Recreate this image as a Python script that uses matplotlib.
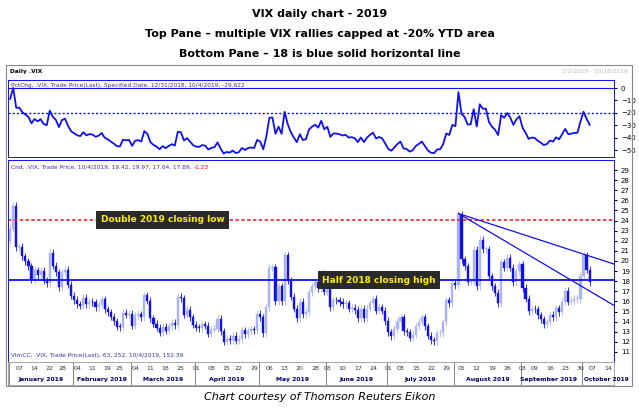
import matplotlib
matplotlib.use("Agg")
import matplotlib.pyplot as plt
import numpy as np
import pandas as pd

closes = [23.2,25.45,21.38,21.40,20.47,19.98,19.50,18.19,19.07,18.60,19.04,18.06,17.80,20.80,19.52,18.89,17.42,18.87,19.13,17.66,16.57,
 16.14,15.73,15.57,16.37,15.72,15.97,15.91,15.43,15.65,16.22,15.24,14.91,14.46,14.02,13.51,13.46,14.85,14.70,14.78,
 13.57,14.63,14.74,14.45,16.59,16.05,14.33,13.77,13.41,12.88,13.50,13.10,13.56,13.91,13.63,16.48,16.33,14.68,15.15,14.43,13.71,
 13.40,13.36,13.74,13.58,12.82,13.18,13.30,14.28,13.02,12.01,12.32,12.18,12.60,12.09,12.28,13.14,12.73,13.11,13.25,13.12,
 14.80,14.42,12.87,15.44,19.32,19.40,16.04,17.50,16.04,20.55,18.06,16.44,15.29,14.33,15.96,14.75,14.95,16.92,17.50,17.90,17.30,18.71,
 16.97,17.48,15.41,16.12,16.09,15.94,15.70,15.82,15.28,15.35,15.15,14.33,15.28,14.33,15.26,15.82,16.28,15.08,15.40,15.08,
 14.06,12.93,12.57,13.28,13.96,14.45,13.03,12.93,12.39,12.68,13.53,13.97,14.45,13.53,12.61,12.16,12.07,12.83,12.87,13.94,16.12,15.80,
 17.87,17.61,24.59,20.17,19.49,17.97,17.97,21.09,17.52,22.10,21.18,21.18,18.47,17.50,16.88,15.80,19.87,19.32,20.31,19.35,17.88,18.98,
 19.66,17.33,16.27,15.00,15.27,15.20,14.61,14.22,13.74,13.95,14.67,14.44,15.32,14.91,15.96,17.05,15.96,16.07,16.24,16.24,
 18.56,20.56,19.12,17.89]
opens = [22.0] + closes[:-1]
ref_close = 25.42
double_low = 24.1
half_high = 18.1
trend_start = (147, 24.7)
trend_ends = [(198, 19.7), (198, 15.6)]
top_ticks = [0, -10, -20, -30, -40, -50]
bot_ticks = list(range(11, 30))
months = ["January 2019","February 2019","March 2019","April 2019","May 2019","June 2019",
          "July 2019","August 2019","September 2019","October 2019"]

hol = pd.to_datetime(["2019-01-21","2019-02-18","2019-04-19","2019-05-27","2019-07-04","2019-09-02"])
dates = pd.bdate_range("2019-01-02","2019-10-04")
dates = dates[~dates.isin(hol)]
n = len(closes)
dates = dates[:n]
x = np.arange(n)
c = np.array(closes); o = np.array(opens)
pct = (c/ref_close - 1)*100

W, H = 639, 409
fig = plt.figure(figsize=(W/100, H/100), dpi=100)
def ax_px(l, t, r, b):
    return fig.add_axes([l/W, 1-b/H, (r-l)/W, (b-t)/H])
blue = "#1010ee"
fs = 4.2
fig.text(0.5, 1-14/H, "VIX daily chart - 2019", ha="center", va="center", fontsize=8, fontweight="bold")
fig.text(0.5, 1-34/H, "Top Pane – multiple VIX rallies capped at -20% YTD area", ha="center", va="center", fontsize=8, fontweight="bold")
fig.text(0.5, 1-54/H, "Bottom Pane – 18 is blue solid horizontal line", ha="center", va="center", fontsize=8, fontweight="bold")
fig.text(0.5, 1-397/H, "Chart courtesy of Thomson Reuters Eikon", ha="center", va="center", fontsize=8, style="italic")
fig.patches.append(plt.Rectangle((6/W, 1-386/H), 626/W, 321/H, transform=fig.transFigure, fill=False, ec="#888888", lw=0.8))
fig.text(10/W, 1-71/H, "Daily .VIX", fontsize=fs, fontweight="bold", va="center")
fig.text(628/W, 1-71/H, "1/2/2019 - 10/18/2019", fontsize=fs, color="#bbbbbb", va="center", ha="right")

xl = (-0.7, 198)
a1 = ax_px(8, 80, 614, 157)
a1.plot(x, pct, color=blue, lw=1.3)
a1.axhline(-20, color=blue, ls=(0,(1.5,1.5)), lw=1)
a1.axhline(0, color=blue, lw=0.8)
a1.set_xlim(*xl); a1.set_ylim(-55.6, 6.5)
a1.yaxis.tick_right(); a1.set_yticks(top_ticks); a1.set_xticks([])
a1.tick_params(axis="y", labelsize=5, length=2, pad=3)
for s in a1.spines.values(): s.set_color(blue); s.set_linewidth(0.7)
a1.text(0.005, 0.93, "PctChg, .VIX, Trade Price(Last), Specified Date, 12/31/2018, 10/4/2019, -29.622", transform=a1.transAxes, fontsize=fs, color="#333399", va="center")

a2 = ax_px(8, 160, 614, 362)
up = c >= o
for i in range(n):
    lo, hi = min(o[i], c[i]), max(o[i], c[i])
    col = "#aab4f4" if up[i] else blue
    a2.vlines(x[i], lo-0.35, hi+0.35, color=col, lw=0.6)
    a2.bar(x[i], max(hi-lo, 0.08), bottom=lo, width=0.7, color=col, edgecolor=col, lw=0.3)
a2.axhline(double_low, color="#ee2222", ls=(0,(2,1.5)), lw=1.2)
a2.axhline(half_high, color=blue, lw=1.3)
for ex, ey in trend_ends:
    a2.plot([trend_start[0], ex], [trend_start[1], ey], color=blue, lw=0.9)
a2.text(50, double_low, "Double 2019 closing low", fontsize=6.5, fontweight="bold", color="#ffee00", ha="center", va="center",
        bbox=dict(boxstyle="square,pad=0.5", fc="#2a2a2a", ec="none"))
a2.text(121, half_high, "Half 2018 closing high", fontsize=6.5, fontweight="bold", color="#ffee00", ha="center", va="center",
        bbox=dict(boxstyle="square,pad=0.5", fc="#2a2a2a", ec="none"))
a2.set_xlim(*xl); a2.set_ylim(10, 30)
a2.yaxis.tick_right(); a2.set_yticks(bot_ticks)
a2.tick_params(axis="y", labelsize=5, length=2, pad=3)
a2.set_xticks([])
for s in a2.spines.values(): s.set_color(blue); s.set_linewidth(0.7)
a2.spines["bottom"].set_visible(False)
t = a2.text(0.005, 0.965, "Cnd, .VIX, Trade Price, 10/4/2019, 19.42, 19.97, 17.64, 17.89, ", transform=a2.transAxes, fontsize=fs, color="#333399", va="center")
a2.annotate("-1.23", xycoords=t, xy=(1, 0.5), va="center", fontsize=fs, color="red")
a2.text(0.005, 0.03, "VlmCC, .VIX, Trade Price(Last), 63, 252, 10/4/2019, 152.39", transform=a2.transAxes, fontsize=fs, color="#333399", va="center")

a3 = ax_px(8, 362, 614, 385)
a3.set_xlim(*xl); a3.set_ylim(0, 1)
a3.set_yticks([]); a3.set_xticks([])
for s in a3.spines.values(): s.set_color("#999999"); s.set_linewidth(0.6)
ext = list(dates) + list(pd.bdate_range("2019-10-07", "2019-10-18"))
for i, d in enumerate(ext):
    if d.weekday() == 0 or (i > 0 and (d - ext[i-1]).days > 3 and d.weekday() == 1):
        a3.text(i, 0.72, f"{d.day:02d}", fontsize=4.5, ha="center", va="center", color="#333333")
for m in range(1, 11):
    idx = [i for i, d in enumerate(ext) if d.month == m]
    a3.axvline(idx[0]-0.5, color="#555555", lw=0.5)
    if m == 10:
        a3.text(idx[0] + 0.3, 0.25, months[m-1], fontsize=4.2, ha="left", va="center", color="#000066", fontweight="bold")
    else:
        mid = (idx[0] + idx[-1]) / 2 - (1.0 if m == 9 else 0)
        a3.text(mid, 0.25, months[m-1], fontsize=4.4, ha="center", va="center", color="#000066", fontweight="bold")
fig.savefig("out.png", dpi=100)
